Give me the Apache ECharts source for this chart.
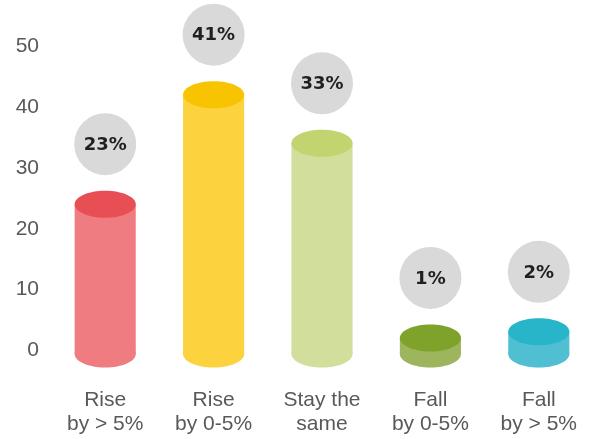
<!DOCTYPE html>
<html>
<head>
<meta charset="utf-8">
<script src="https://cdn.jsdelivr.net/npm/echarts@6/dist/echarts.min.js"></script>
<style>html,body{margin:0;padding:0;background:#fff}#c{width:593px;height:439px}</style>
</head>
<body>
<div id="c"></div>
<script>
const categories = ['Rise\nby > 5%', 'Rise\nby 0-5%', 'Stay the\nsame', 'Fall\nby 0-5%', 'Fall\nby > 5%'];
const values = [23, 41, 33, 1, 2];
const valueLabels = ['23%', '41%', '33%', '1%', '2%'];
const yMin = 0, yMax = 50, yStep = 10;

const bodyColors = ['#ef7c81', '#fcd23e', '#d2de9c', '#9db65d', '#50bfd2'];
const topColors = ['#e84f55', '#f8c300', '#c1d46f', '#7fa22b', '#29b5c9'];

const chart = echarts.init(document.getElementById('c'));
chart.setOption({
  animation: false,
  grid: { left: 51, width: 550, top: 40, height: 304 },
  xAxis: {
    type: 'category',
    data: categories,
    axisLine: { show: false },
    axisTick: { show: false },
    axisLabel: {
      fontFamily: 'Liberation Sans', fontSize: 21, lineHeight: 24,
      color: '#58595b', margin: 44, interval: 0
    }
  },
  yAxis: {
    type: 'value', min: yMin, max: yMax, interval: yStep,
    splitLine: { show: false },
    axisLine: { show: false },
    axisTick: { show: false },
    axisLabel: {
      fontFamily: 'Liberation Sans', fontSize: 21, color: '#58595b',
      margin: 12, verticalAlign: 'top', lineHeight: 13
    }
  },
  series: [{
    type: 'custom',
    clip: false,
    data: values.map((v, i) => [i, v]),
    encode: { x: 0, y: 1 },
    renderItem: function (params, api) {
      const i = api.value(0);
      const v = api.value(1);
      const p = api.coord([i, v]);
      const b = api.coord([i, 0]);
      const band = api.size([1, 0])[0];
      const rx = band * 0.5636 / 2;
      const ry = 13.5;
      const cx = p[0];
      const yTop = p[1];
      const yBot = b[1] + 10;
      const cy = yTop - 60;
      return {
        type: 'group',
        children: [
          { type: 'rect', shape: { x: cx - rx, y: yTop, width: 2 * rx, height: yBot - yTop }, style: { fill: bodyColors[i] } },
          { type: 'ellipse', shape: { cx: cx, cy: yBot, rx: rx, ry: ry }, style: { fill: bodyColors[i] } },
          { type: 'ellipse', shape: { cx: cx, cy: yTop, rx: rx, ry: ry }, style: { fill: topColors[i] } },
          { type: 'circle', shape: { cx: cx, cy: cy, r: 31 }, style: { fill: '#d9d9d9' } },
          { type: 'text', style: { text: valueLabels[i], x: cx, y: cy + 1, align: 'center', verticalAlign: 'middle',
              font: 'bold 18px "DejaVu Sans"', fill: '#231f20' } }
        ]
      };
    }
  }]
});
</script>
</body>
</html>
